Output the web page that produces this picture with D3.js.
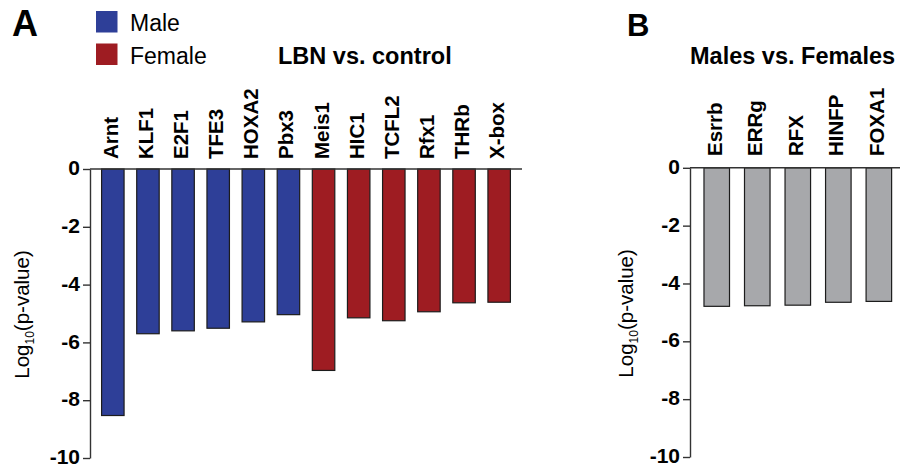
<!DOCTYPE html>
<html>
<head>
<meta charset="utf-8">
<script src="https://cdn.jsdelivr.net/npm/d3@7"></script>
<style>
  body { margin: 0; background: #fff; }
  svg { display: block; font-family: "Liberation Sans", Arial, sans-serif; }
</style>
</head>
<body>
<div id="chart"></div>
<script>
// panel A: LBN vs. control
const lbnGenes = ["Arnt", "KLF1", "E2F1", "TFE3", "HOXA2", "Pbx3", "Meis1", "HIC1", "TCFL2", "Rfx1", "THRb", "X-box"];
const lbnValues = [-8.53, -5.70, -5.60, -5.51, -5.29, -5.04, -6.97, -5.15, -5.25, -4.94, -4.63, -4.61];
const lbnSex = ["Male", "Male", "Male", "Male", "Male", "Male", "Female", "Female", "Female", "Female", "Female", "Female"];

// panel B: Males vs. Females
const sexGenes = ["Esrrb", "ERRg", "RFX", "HINFP", "FOXA1"];
const sexValues = [-4.79, -4.77, -4.75, -4.65, -4.62];

const yTicks = [0, -2, -4, -6, -8, -10];
const legendKeys = ["Male", "Female"];

const COLORS = { Male: "#2e3f98", Female: "#9e1c22", Both: "#a7a8ab" };

const svg = d3.select("#chart")
  .append("svg")
  .attr("width", 900)
  .attr("height", 468);

// draws one bar panel
const drawPanel = ({ genes, values, colorOf, xRange, yRange, padInner, padOuter, labelY, titleX }) => {
  const x = d3.scaleBand()
    .domain(genes)
    .range(xRange)
    .paddingInner(padInner)
    .paddingOuter(padOuter);

  const y = d3.scaleLinear()
    .domain([0, -10])
    .range(yRange);

  const g = svg.append("g");

  // bars
  g.selectAll("rect")
    .data(genes)
    .enter()
    .append("rect")
    .attr("x", (d) => x(d))
    .attr("y", y(0))
    .attr("width", x.bandwidth())
    .attr("height", (d, i) => y(values[i]) - y(0))
    .attr("fill", (d, i) => colorOf(i))
    .attr("stroke", "#1c1c1c")
    .attr("stroke-width", 1.2);

  // zero line across the panel
  g.append("line")
    .attr("x1", xRange[0])
    .attr("x2", xRange[1])
    .attr("y1", y(0))
    .attr("y2", y(0))
    .attr("stroke", "#333")
    .attr("stroke-width", 1.4);

  // y axis
  const yAxis = g.append("g")
    .attr("transform", `translate(${xRange[0]},0)`)
    .call(
      d3.axisLeft(y)
        .tickValues(yTicks)
        .tickSize(7)
        .tickSizeOuter(0)
        .tickPadding(3)
        .tickFormat((d) => String(d))
    );
  yAxis.select(".domain").attr("stroke", "#333").attr("stroke-width", 1.4);
  yAxis.selectAll(".tick line").attr("stroke", "#333").attr("stroke-width", 1.4);
  yAxis.selectAll(".tick text")
    .attr("fill", "#000")
    .attr("dy", "0.27em")
    .style("font-size", "21px")
    .style("font-weight", "bold");

  // y title with subscript
  const yTitle = g.append("text")
    .attr("transform", `translate(${titleX},${(yRange[0] + yRange[1]) / 2 + 1}) rotate(-90)`)
    .attr("text-anchor", "middle")
    .style("font-size", "20.5px");
  yTitle.append("tspan").text("Log");
  yTitle.append("tspan").text("10").attr("dy", 5).style("font-size", "12px");
  yTitle.append("tspan").text("(p-value)").attr("dy", -5);

  // rotated gene labels
  g.selectAll(".gene")
    .data(genes)
    .enter()
    .append("text")
    .attr("class", "gene")
    .attr("transform", (d) => `translate(${x(d) + x.bandwidth() / 2 + 5},${labelY}) rotate(-90)`)
    .attr("text-anchor", "start")
    .style("font-size", "20.5px")
    .style("font-weight", "bold")
    .text((d) => d);
};

drawPanel({
  genes: lbnGenes,
  values: lbnValues,
  colorOf: (i) => COLORS[lbnSex[i]],
  xRange: [90, 522],
  yRange: [169, 458],
  padInner: 0.36,
  padOuter: 0.33,
  labelY: 159,
  titleX: 29,
});

drawPanel({
  genes: sexGenes,
  values: sexValues,
  colorOf: () => COLORS.Both,
  xRange: [690, 905.6],
  yRange: [167.8, 457],
  padInner: 0.37,
  padOuter: 0.345,
  labelY: 156,
  titleX: 633,
});

// panel letters
svg.append("text").attr("x", 12).attr("y", 36)
  .style("font-size", "36px").style("font-weight", "bold").text("A");
svg.append("text").attr("x", 627).attr("y", 36)
  .style("font-size", "31px").style("font-weight", "bold").text("B");

// titles
svg.append("text").attr("x", 278).attr("y", 64)
  .style("font-size", "23.5px").style("font-weight", "bold").text("LBN vs. control");
svg.append("text").attr("x", 690).attr("y", 64)
  .style("font-size", "23.5px").style("font-weight", "bold").text("Males vs. Females");

// legend
const legend = svg.append("g")
  .selectAll("g")
  .data(legendKeys)
  .enter()
  .append("g")
  .attr("transform", (d, i) => `translate(96,${11 + i * 32.5})`);
legend.append("rect")
  .attr("width", 21.5)
  .attr("height", 21.5)
  .attr("fill", (d) => COLORS[d]);
legend.append("text")
  .attr("x", 34)
  .attr("y", 20)
  .style("font-size", "23px")
  .text((d) => d);
</script>
</body>
</html>
